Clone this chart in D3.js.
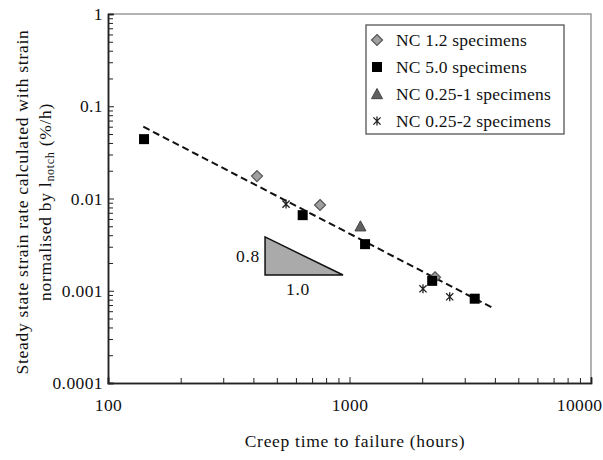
<!DOCTYPE html>
<html><head><meta charset="utf-8">
<script src="https://cdn.jsdelivr.net/npm/d3@7/dist/d3.min.js"></script>
<style>body{margin:0;background:#fff}svg{display:block}svg text{font-family:"Liberation Serif",serif !important;fill:#111;letter-spacing:0.7px}</style>
</head><body><svg id="c" width="603" height="460" font-family="Liberation Serif"></svg>
<script>
// Data
const nc12 = [[414, 0.0175], [755, 0.0085], [2260, 0.0014]];
const nc50 = [[141, 0.044], [640, 0.0066], [1160, 0.0032], [2200, 0.00128], [3300, 0.00082]];
const nc025_1 = [[1110, 0.005]];
const nc025_2 = [[546, 0.0087], [2015, 0.00105], [2600, 0.00086]];
const trend = [[140, 0.06], [3930, 0.00065]];
const slopeTri = [[447, 0.00383], [447, 0.00148], [940, 0.00148]];
const slopeLabels = ["0.8", "1.0"];
const xTicks = [100, 1000, 10000];
const yTicks = [0.0001, 0.001, 0.01, 0.1, 1];
const yTickLabels = ["0.0001", "0.001", "0.01", "0.1", "1"];
const legendLabels = ["NC 1.2 specimens", "NC 5.0 specimens", "NC 0.25-1 specimens", "NC 0.25-2 specimens"];

const svg = d3.select("#c");
const x = d3.scaleLog().domain([100, 10000]).range([108, 591]);
const y = d3.scaleLog().domain([0.0001, 1]).range([383, 14]);

// frame top/right
svg.append("path").attr("d", `M${x(100)},${y(1)}H${x(10000)}V${y(0.0001)}`)
  .attr("fill", "none").attr("stroke", "#999").attr("stroke-width", 1.5);

// minor ticks
const minorX = [], minorY = [];
for (let d = 100; d < 10000; d *= 10) for (let k = 2; k <= 9; k++) minorX.push(d * k);
for (let d = 0.0001; d < 0.99; d *= 10) for (let k = 2; k <= 9; k++) minorY.push(d * k);

const gx = svg.append("g").attr("transform", `translate(0,${y(0.0001)})`);
gx.call(d3.axisBottom(x).tickValues(xTicks).tickSize(-6).tickPadding(16).tickFormat(d3.format("d")));
gx.append("g").call(d3.axisBottom(x).tickValues(minorX).tickSize(-5).tickFormat(""));
const gy = svg.append("g").attr("transform", `translate(${x(100)},0)`);
gy.call(d3.axisLeft(y).tickValues(yTicks).tickSize(-6).tickPadding(5).tickFormat((d, i) => yTickLabels[i]));
gy.append("g").call(d3.axisLeft(y).tickValues(minorY).tickSize(-5).tickFormat(""));
svg.selectAll("g").attr("font-family", null).attr("font-size", null);
svg.selectAll(".domain").attr("stroke", "#222").attr("stroke-width", 1.5);
svg.selectAll(".tick line").attr("stroke", "#222");
svg.selectAll(".tick text").style("font-size", "17.5px").style("letter-spacing", "0.4px").attr("fill", "#111");
gx.selectAll(".tick text").filter(d => d === 10000).attr("text-anchor", "end").attr("x", 11);

// trend line
svg.append("path").datum(trend)
  .attr("d", d3.line().x(d => x(d[0])).y(d => y(d[1])))
  .attr("fill", "none").attr("stroke", "#111").attr("stroke-width", 2).attr("stroke-dasharray", "7,4");

// slope triangle
svg.append("path").datum(slopeTri)
  .attr("d", d3.line().x(d => x(d[0])).y(d => y(d[1])).curve(d3.curveLinearClosed))
  .attr("fill", "#aaa").attr("stroke", "#111").attr("stroke-width", 1.5);
svg.append("text").attr("x", x(slopeTri[0][0]) - 5).attr("y", (y(slopeTri[0][1]) + y(slopeTri[1][1])) / 2 + 6)
  .attr("text-anchor", "end").style("font-size", "17.5px").text(slopeLabels[0]);
svg.append("text").attr("x", (x(slopeTri[1][0]) + x(slopeTri[2][0])) / 2 - 6).attr("y", y(slopeTri[1][1]) + 20)
  .attr("text-anchor", "middle").style("font-size", "17.5px").text(slopeLabels[1]);

// markers
function asterisk(g, cx, cy) {
  const r = 4.5, d = 3.6;
  const p = `M${cx},${cy - r}V${cy + r}M${cx - d},${cy - d}L${cx + d},${cy + d}M${cx - d},${cy + d}L${cx + d},${cy - d}`;
  g.append("path").attr("d", p).attr("stroke", "#222").attr("stroke-width", 1.3).attr("fill", "none");
}
function drawMarker(g, type, cx, cy) {
  if (type === "diamond") {
    const r = 5.5;
    g.append("path").attr("d", `M${cx},${cy - r}L${cx + r},${cy}L${cx},${cy + r}L${cx - r},${cy}Z`)
      .attr("fill", "#a0a0a0").attr("stroke", "#555").attr("stroke-width", 1.2);
  } else if (type === "square") {
    g.append("rect").attr("x", cx - 5).attr("y", cy - 5).attr("width", 10).attr("height", 10).attr("fill", "#000");
  } else if (type === "triangle") {
    const r = 5.5;
    g.append("path").attr("d", `M${cx},${cy - r}L${cx + r},${cy + r * 0.85}L${cx - r},${cy + r * 0.85}Z`)
      .attr("fill", "#606060").attr("stroke", "#444").attr("stroke-width", 1);
  } else asterisk(g, cx, cy);
}
const gm = svg.append("g");
nc12.forEach(d => drawMarker(gm, "diamond", x(d[0]), y(d[1])));
nc025_1.forEach(d => drawMarker(gm, "triangle", x(d[0]), y(d[1])));
nc025_2.forEach(d => drawMarker(gm, "star", x(d[0]), y(d[1])));
nc50.forEach(d => drawMarker(gm, "square", x(d[0]), y(d[1])));

// legend
const lg = svg.append("g");
lg.append("rect").attr("x", 366).attr("y", 25).attr("width", 198).attr("height", 109)
  .attr("fill", "#fff").attr("stroke", "#555").attr("stroke-width", 1.3);
const types = ["diamond", "square", "triangle", "star"];
legendLabels.forEach((t, i) => {
  const cy = 40 + i * 27;
  drawMarker(lg, types[i], 377, cy);
  lg.append("text").attr("x", 396).attr("y", cy + 6).style("font-size", "17.5px").style("letter-spacing", "0.2px").text(t);
});

// axis titles
svg.append("text").attr("x", 355).attr("y", 447).attr("text-anchor", "middle").style("font-size", "17.5px")
  .text("Creep time to failure (hours)");
const yt = svg.append("text").attr("transform", "translate(0,202) rotate(-90)").attr("text-anchor", "middle").style("font-size", "17.5px");
yt.append("tspan").attr("x", 0).attr("y", 28).text("Steady state strain rate calculated with strain");
const t2 = yt.append("tspan").attr("x", 0).attr("y", 51);
t2.append("tspan").text("normalised by l");
t2.append("tspan").attr("dy", 3).style("font-size", "12px").text("notch");
t2.append("tspan").attr("dy", -3).text(" (%/h)");
</script></body></html>
